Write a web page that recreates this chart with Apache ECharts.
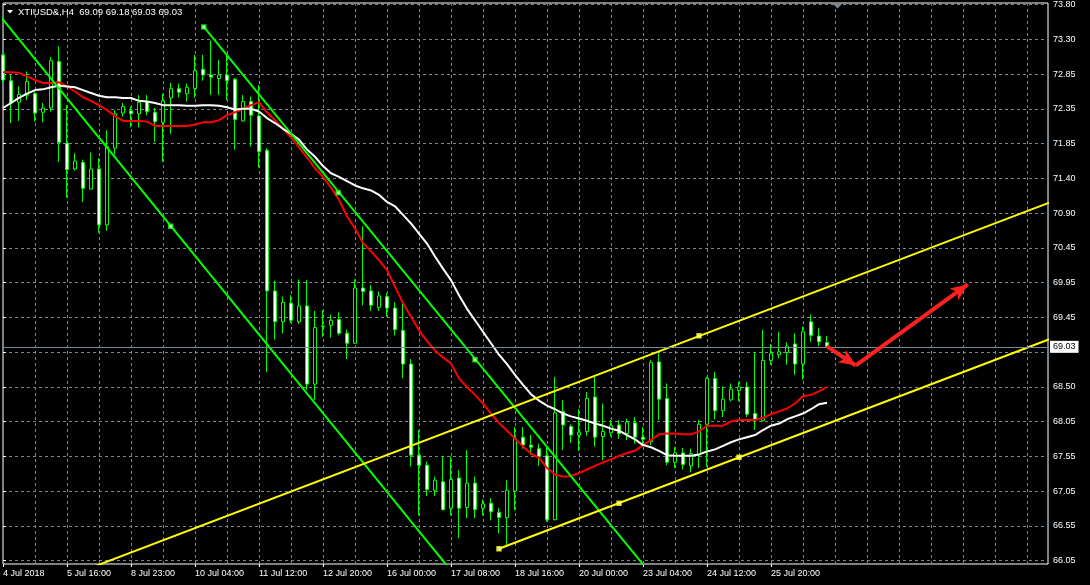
<!DOCTYPE html>
<html><head><meta charset="utf-8">
<script src="https://cdn.jsdelivr.net/npm/echarts@6/dist/echarts.min.js"></script>
<style>html,body{margin:0;padding:0;background:#000;}#c{width:1090px;height:585px;}</style>
</head><body><div id="c"></div>
<script>
// ---- data ----
const symbolName = 'XTIUSD&,H4';
const xLabels = ['4 Jul 2018','5 Jul 16:00','8 Jul 23:00','10 Jul 04:00','11 Jul 12:00','12 Jul 20:00','16 Jul 00:00','17 Jul 08:00','18 Jul 16:00','20 Jul 00:00','23 Jul 04:00','24 Jul 12:00','25 Jul 20:00'];
const yLabels = ['66.05','66.55','67.05','67.55','68.05','68.50','','69.45','69.95','70.45','70.90','71.40','71.85','72.35','72.85','73.30','73.80'];

const opens = [73.10,72.74,72.44,72.54,72.56,72.30,72.36,73.01,71.87,71.51,
71.60,71.23,71.51,70.73,71.80,72.29,72.32,72.28,72.45,72.30,
72.16,72.50,72.63,72.56,72.63,72.90,72.82,72.77,72.82,72.76,
72.18,72.45,72.25,71.77,69.81,69.38,69.64,69.38,69.60,68.51,
69.31,69.33,69.41,69.22,69.08,69.85,69.81,69.58,69.73,69.57,
69.26,68.79,67.52,67.38,67.03,67.15,66.78,67.20,66.79,67.13,
66.78,66.85,66.72,66.65,67.02,67.77,67.66,67.61,67.51,66.62,
68.13,67.92,67.80,67.85,68.33,67.78,67.83,67.94,67.82,67.97,
67.77,67.71,68.82,68.31,67.42,67.55,67.37,67.52,67.95,68.59,
68.14,68.29,68.42,68.47,68.10,68.00,68.84,68.92,68.95,69.07,
68.79,69.38,69.18,69.09];
const highs = [73.13,72.82,72.66,72.87,72.59,72.43,73.07,73.22,72.40,71.73,
71.64,71.74,71.66,72.05,72.33,72.43,72.38,72.54,72.54,72.36,
72.56,72.71,72.70,72.70,73.10,73.10,73.30,73.03,73.10,72.78,
72.54,72.52,72.68,71.80,69.95,69.73,69.75,69.97,69.96,69.53,
69.54,69.48,69.51,69.27,69.97,70.71,69.89,69.80,69.78,69.65,
69.64,68.86,67.87,67.43,67.22,67.50,67.50,67.31,67.59,67.22,
66.90,66.92,66.78,67.17,67.91,67.91,67.80,67.68,67.64,68.61,
68.29,67.95,68.16,68.40,68.61,68.24,68.01,68.01,68.03,68.05,
67.91,68.85,68.94,68.52,67.63,67.62,67.61,68.01,68.61,68.68,
68.48,68.52,68.54,68.54,68.96,69.27,69.07,69.24,69.09,69.22,
69.31,69.48,69.29,69.18];
const lows = [72.72,72.15,72.18,72.47,72.17,72.16,72.31,71.61,71.11,71.49,
71.05,71.22,70.62,70.65,71.71,72.24,72.09,72.09,72.26,71.88,
71.61,72.00,72.51,72.45,72.50,72.74,72.54,72.54,72.47,71.78,
72.17,71.82,71.53,68.68,69.13,69.22,69.36,69.35,68.43,68.29,
69.17,69.16,69.19,68.86,69.07,69.61,69.53,69.53,69.45,69.19,
68.59,67.36,66.68,66.95,66.95,66.75,66.68,66.36,66.64,66.64,
66.68,66.61,66.43,66.24,66.75,67.61,67.52,67.37,66.59,66.61,
67.59,67.69,67.58,67.79,67.64,67.45,67.78,67.75,67.73,67.68,
67.64,67.66,68.01,67.38,67.34,67.32,67.28,67.34,67.36,68.02,
68.05,68.27,68.27,68.05,67.87,67.99,68.78,68.87,68.78,68.64,
68.57,69.10,69.04,69.03];
const closes = [72.75,72.43,72.55,72.73,72.29,72.36,73.02,71.88,71.50,71.62,
71.24,71.51,70.73,71.82,72.28,72.38,72.28,72.44,72.31,72.17,
72.46,72.63,72.58,72.65,72.88,72.82,72.79,72.82,72.74,72.20,
72.45,72.26,71.75,69.81,69.38,69.65,69.40,69.60,68.51,69.30,
69.32,69.40,69.22,69.08,69.85,69.80,69.61,69.74,69.57,69.27,
68.79,67.52,67.38,67.04,67.17,66.76,67.18,66.78,67.13,66.76,
66.84,66.73,66.65,67.03,67.75,67.66,67.63,67.50,66.62,68.11,
67.94,67.80,67.84,68.31,67.77,67.85,67.93,67.82,67.98,67.77,
67.74,68.81,68.30,67.42,67.55,67.39,67.54,67.95,68.59,68.14,
68.30,68.44,68.47,68.09,68.02,68.84,68.94,68.96,69.04,68.79,
69.24,69.19,69.10,69.03];
const maRed = [72.86,72.86,72.85,72.80,72.75,72.71,72.71,72.72,72.66,72.59,
72.51,72.46,72.40,72.33,72.25,72.18,72.18,72.18,72.17,72.11,
72.11,72.11,72.11,72.11,72.13,72.16,72.16,72.19,72.26,72.30,
72.35,72.40,72.44,72.30,72.19,72.07,71.95,71.81,71.67,71.52,
71.40,71.25,71.08,70.85,70.68,70.48,70.36,70.24,70.10,69.87,
69.64,69.45,69.26,69.11,68.98,68.88,68.80,68.59,68.47,68.36,
68.24,68.10,67.97,67.86,67.75,67.64,67.54,67.48,67.34,67.25,
67.22,67.23,67.27,67.32,67.37,67.42,67.46,67.51,67.55,67.58,
67.66,67.73,67.81,67.82,67.82,67.81,67.81,67.85,67.93,67.93,
67.93,67.99,68.01,68.01,68.01,68.04,68.09,68.13,68.17,68.24,
68.34,68.36,68.41,68.47];
const maWhite = [72.36,72.43,72.50,72.56,72.61,72.62,72.65,72.67,72.66,72.65,
72.61,72.57,72.53,72.51,72.51,72.50,72.50,72.46,72.45,72.43,
72.40,72.40,72.40,72.39,72.39,72.40,72.40,72.39,72.37,72.34,
72.35,72.35,72.31,72.22,72.15,72.07,72.00,71.92,71.78,71.68,
71.55,71.45,71.40,71.34,71.28,71.24,71.21,71.15,71.05,70.99,
70.87,70.75,70.61,70.47,70.29,70.12,69.96,69.75,69.56,69.40,
69.24,69.08,68.92,68.79,68.64,68.50,68.37,68.28,68.21,68.16,
68.10,68.06,68.03,68.00,67.96,67.93,67.89,67.86,67.80,67.74,
67.66,67.63,67.58,67.52,67.51,67.51,67.51,67.53,67.57,67.60,
67.65,67.70,67.74,67.77,67.80,67.87,67.93,67.96,68.02,68.06,
68.10,68.16,68.23,68.25];

// trend-line drawings: [bar, price]
const greenLine1 = [[-1, 73.73], [56, 65.91]];
const greenLine2 = [[25.1, 73.49], [81, 65.86]];
const greenAnchors = [[25.1, 73.49], [41.9, 71.18], [59.0, 68.85], [20.96, 70.71]];
const yellowUpper = [[11, 65.95], [131, 71.05]];
const yellowLower = [[62, 66.215], [131, 69.145]];
const yellowAnchors = [[87, 69.185], [62, 66.215], [77, 66.85], [92, 67.49]];
const arrowPath = [[102.96, 69.04], [106.6, 68.77], [120.6, 69.90]];
const bidPrice = 69.03;

// ---- chart ----
const FONT = '"Liberation Sans", Arial, sans-serif';
const GRID = '#778899';
const LIME = '#00ff00';
const n = opens.length;
const candles = opens.map((o, i) => [i, o, closes[i], lows[i], highs[i]]);
const tickVals = xLabels.map((_, i) => i * 8);
const last = n - 1;
const titleText = symbolName + '  ' + [opens[last], highs[last], lows[last], closes[last]].map(v => v.toFixed(2)).join(' ');

const chart = echarts.init(document.getElementById('c'), null, {renderer: 'canvas'});
chart.setOption({
  backgroundColor: '#000',
  animation: false,
  title: {text: titleText, left: 18, top: 7, padding: 0, textStyle: {color: '#fff', fontSize: 9.5, fontWeight: 'normal', fontFamily: FONT}},
  graphic: [
    {type: 'polygon', shape: {points: [[7, 10], [13, 10], [10, 13.5]]}, style: {fill: '#fff'}},
    {type: 'polygon', shape: {points: [[833, 4], [842, 4], [837.5, 8.5]]}, style: {fill: GRID}}
  ],
  grid: [
    {left: 3, top: 3, right: 42, bottom: 21, show: true, borderColor: '#fff', borderWidth: 1, backgroundColor: 'transparent'},
    {left: 3, top: 4.7, right: 42, bottom: 24.5, show: false}
  ],
  xAxis: [
    {gridIndex: 0, type: 'value', min: 0, max: 130.625, interval: 4,
      axisLine: {show: false}, axisTick: {show: false}, axisLabel: {show: false},
      splitLine: {show: true, lineStyle: {color: GRID, type: [3, 3], width: 1}}},
    {gridIndex: 0, type: 'value', min: 0, max: 130.625, position: 'bottom',
      axisLine: {show: false}, splitLine: {show: false},
      axisTick: {show: true, customValues: tickVals, length: 3, lineStyle: {color: '#fff'}},
      axisLabel: {show: true, customValues: tickVals, formatter: v => xLabels[Math.round(v / 8)] || '',
        color: '#fff', fontSize: 9, fontFamily: FONT, align: 'left', margin: 5}},
    {gridIndex: 1, type: 'value', min: 0, max: 1, show: false}
  ],
  yAxis: [
    {gridIndex: 0, type: 'value', min: 66.002, max: 73.824, show: false, splitLine: {show: false}},
    {gridIndex: 1, type: 'value', min: 0, max: 16, interval: 1, position: 'right',
      axisLine: {show: false},
      axisTick: {show: true, length: 3, lineStyle: {color: '#fff'}},
      axisLabel: {formatter: v => yLabels[Math.round(v)] || '', color: '#fff', fontSize: 9, fontFamily: FONT, margin: 5},
      splitLine: {show: true, lineStyle: {color: GRID, type: [3, 3], width: 1}}}
  ],
  series: [
    {type: 'candlestick', xAxisIndex: 0, yAxisIndex: 0, data: candles, encode: {x: 0, y: [1, 2, 3, 4]},
      barWidth: 4, clip: true, z: 2,
      itemStyle: {color: '#000', color0: '#fff', borderColor: LIME, borderColor0: LIME, borderColorDoji: LIME, borderWidth: 1},
      markLine: {silent: true, symbol: ['none', 'none'], animation: false,
        lineStyle: {color: GRID, type: 'solid', width: 1},
        label: {show: true, position: 'end', formatter: bidPrice.toFixed(2), color: '#000', backgroundColor: '#fff',
          padding: [2, 3, 1, 3], fontSize: 9, fontFamily: FONT, distance: 2},
        data: [{yAxis: bidPrice}]}},
    {type: 'line', xAxisIndex: 0, yAxisIndex: 0, data: maRed.map((v, i) => [i, v]), showSymbol: false, symbol: 'none',
      lineStyle: {color: '#ff0000', width: 2}, z: 3},
    {type: 'line', xAxisIndex: 0, yAxisIndex: 0, data: maWhite.map((v, i) => [i, v]), showSymbol: false, symbol: 'none',
      lineStyle: {color: '#ffffff', width: 2}, z: 3},
    {type: 'line', data: greenLine1, symbol: 'none', lineStyle: {color: LIME, width: 2}, z: 4},
    {type: 'line', data: greenLine2, symbol: 'none', lineStyle: {color: LIME, width: 2}, z: 4},
    {type: 'line', data: yellowUpper, symbol: 'none', lineStyle: {color: '#ffff00', width: 2}, z: 4},
    {type: 'line', data: yellowLower, symbol: 'none', lineStyle: {color: '#ffff00', width: 2}, z: 4},
    {type: 'scatter', data: greenAnchors, symbol: 'rect', symbolSize: 4, z: 5,
      itemStyle: {color: '#fff', borderColor: LIME, borderWidth: 1.5}},
    {type: 'scatter', data: yellowAnchors, symbol: 'rect', symbolSize: 4, z: 5,
      itemStyle: {color: '#fff', borderColor: '#ffff00', borderWidth: 1.5}},
    {type: 'line', data: arrowPath, symbol: 'none', lineStyle: {opacity: 0}, z: 6,
      markLine: {silent: true, symbol: ['none', 'arrow'], symbolSize: [11, 17], animation: false,
        lineStyle: {color: '#ff2020', type: 'solid', width: 4}, label: {show: false},
        data: [[{coord: arrowPath[0]}, {coord: arrowPath[1]}], [{coord: arrowPath[1]}, {coord: arrowPath[2]}]]}}
  ]
});
</script></body></html>
